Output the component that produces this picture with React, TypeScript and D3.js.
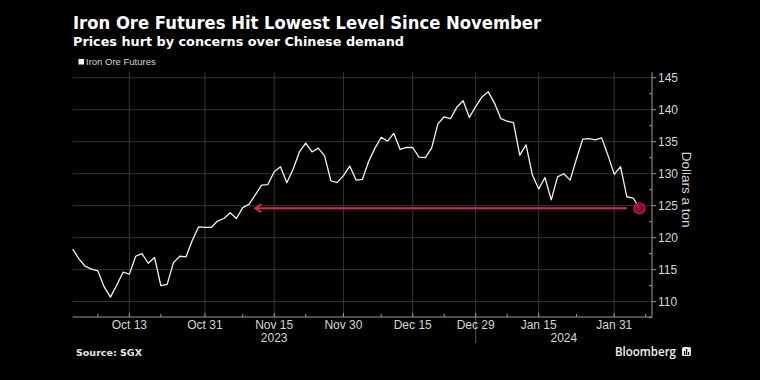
import React from "react";
import * as d3 from "d3";

const seriesName = "Iron Ore Futures";
const prices = [
  118.2, 116.7, 115.5, 115.1, 114.8, 112.3, 110.7, 112.6, 114.6, 114.3,
  117.1, 117.5, 116.0, 116.9, 112.5, 112.7, 116.1, 117.1, 117.0, 119.6,
  121.7, 121.6, 121.6, 122.6, 123.0, 123.9, 123.0, 124.7, 125.2, 126.7,
  128.2, 128.3, 130.3, 131.1, 128.6, 130.7, 133.4, 134.8, 133.4, 134.0,
  132.8, 128.9, 128.6, 129.7, 131.2, 129.0, 129.1, 131.9, 134.0, 135.7,
  135.1, 136.3, 133.8, 134.1, 134.1, 132.6, 132.5, 134.0, 137.8, 138.9,
  138.6, 140.4, 141.4, 138.8, 140.5, 142.0, 142.8, 141.0, 138.6, 138.2,
  138.0, 132.9, 134.5, 129.8, 127.6, 129.4, 125.9, 129.5, 130.0, 129.0,
  132.3, 135.4, 135.5, 135.3, 135.6, 132.9, 129.9, 131.1, 126.4, 126.2,
  124.6,
];
// trading-day index of each labelled date
const xTickLabels = ["Oct 13", "Oct 31", "Nov 15", "Nov 30", "Dec 15", "Dec 29", "Jan 15", "Jan 31"];
const xTickIndex = [9, 21, 32, 43, 54, 64, 74, 86];
const xMinorIndex = [4, 14, 27, 37, 49, 59, 69, 80, 91];
const yearLabels = ["2023", "2024"];
const yearLabelIndex = [32, 78];
const yearBoundaryIndex = 64;
const yTicks = [110, 115, 120, 125, 130, 135, 140, 145];
const yMinorTicks = [107.5, 112.5, 117.5, 122.5, 127.5, 132.5, 137.5, 142.5];
const arrowFromIndex = 88;
const arrowToIndex = 29;

const title = "Iron Ore Futures Hit Lowest Level Since November";
const subtitle = "Prices hurt by concerns over Chinese demand";
const yTitle = "Dollars a ton";
const source = "Source: SGX";

const W = 760;
const H = 380;

export default function App() {
  const x = d3.scaleLinear().domain([0, 92]).range([72.7, 652]);
  const y = d3.scaleLinear().domain([107.6, 145.9]).range([317, 72]);
  const line = d3
    .line<number>()
    .x((_, i) => x(i))
    .y((d) => y(d))
    .curve(d3.curveLinear);

  const last = prices[prices.length - 1];
  const lastI = prices.length - 1;
  const ay = y(last);
  const red = "#e0284f";
  const tickFont = "'Liberation Sans', Arial, sans-serif";
  const axisColor = "#9a9a9a";
  const gridColor = "#363636";
  const textColor = "#d6d6d6";

  return (
    <svg
      width={W}
      height={H}
      viewBox={`0 0 ${W} ${H}`}
      style={{ position: "absolute", left: 0, top: 0, display: "block" }}
    >
      <rect x={0} y={0} width={W} height={H} fill="#000" />

      {/* titles */}
      <text
        x={73}
        y={29}
        fill="#fff"
        fontFamily="'DejaVu Sans', sans-serif"
        fontWeight="bold"
        fontSize={17.5}
        textLength={468}
        lengthAdjust="spacingAndGlyphs"
      >
        {title}
      </text>
      <text
        x={73}
        y={46}
        fill="#fff"
        fontFamily="'DejaVu Sans', sans-serif"
        fontWeight="bold"
        fontSize={12.5}
        textLength={331}
        lengthAdjust="spacingAndGlyphs"
      >
        {subtitle}
      </text>

      {/* legend */}
      <rect x={78.5} y={59} width={5.5} height={5.5} fill="#fff" />
      <text x={86} y={65} fill={textColor} fontFamily={tickFont} fontSize={9.5}>
        {seriesName}
      </text>

      {/* grid */}
      {yTicks.map((t) => (
        <line key={"gy" + t} x1={x(0)} x2={x(92)} y1={y(t)} y2={y(t)} stroke={gridColor} strokeWidth={1} />
      ))}
      {xTickIndex.map((t) => (
        <line key={"gx" + t} x1={x(t)} x2={x(t)} y1={y(145.9)} y2={y(107.6)} stroke={gridColor} strokeWidth={1} />
      ))}
      {/* year boundary */}
      <line
        x1={x(yearBoundaryIndex)}
        x2={x(yearBoundaryIndex)}
        y1={y(107.6)}
        y2={343}
        stroke="#555"
        strokeWidth={1}
      />

      {/* axes */}
      <line x1={x(0)} x2={x(92)} y1={y(107.6)} y2={y(107.6)} stroke={axisColor} strokeWidth={1} />
      <line x1={x(92)} x2={x(92)} y1={y(145.9)} y2={y(107.6)} stroke={axisColor} strokeWidth={1} />
      {xTickIndex.map((t) => (
        <line key={"xt" + t} x1={x(t)} x2={x(t)} y1={y(107.6) - 4} y2={y(107.6)} stroke={axisColor} />
      ))}
      {xMinorIndex.map((t) => (
        <line key={"xm" + t} x1={x(t)} x2={x(t)} y1={y(107.6) - 3} y2={y(107.6)} stroke={axisColor} />
      ))}
      {yTicks.map((t) => (
        <line key={"yt" + t} x1={x(92)} x2={x(92) + 4} y1={y(t)} y2={y(t)} stroke={axisColor} />
      ))}
      {yMinorTicks.map((t) => (
        <line key={"ym" + t} x1={x(92) - 3} x2={x(92)} y1={y(t)} y2={y(t)} stroke={axisColor} />
      ))}
      {yTicks.map((t) => (
        <text
          key={"yl" + t}
          x={x(92) + 6}
          y={y(t)}
          dy="0.35em"
          fill={textColor}
          fontFamily={tickFont}
          fontSize={12}
        >
          {t}
        </text>
      ))}
      {xTickIndex.map((t, i) => (
        <text
          key={"xl" + t}
          x={x(t)}
          y={329}
          textAnchor="middle"
          fill={textColor}
          fontFamily={tickFont}
          fontSize={12}
        >
          {xTickLabels[i]}
        </text>
      ))}
      {yearLabelIndex.map((t, i) => (
        <text
          key={"yr" + t}
          x={x(t)}
          y={342}
          textAnchor="middle"
          fill={textColor}
          fontFamily={tickFont}
          fontSize={12}
        >
          {yearLabels[i]}
        </text>
      ))}
      <text
        transform={`translate(682, ${y(127.5)}) rotate(90)`}
        textAnchor="middle"
        fill={textColor}
        fontFamily={tickFont}
        fontSize={13.5}
      >
        {yTitle}
      </text>

      {/* series */}
      <path d={line(prices) || ""} fill="none" stroke="#f2f2f2" strokeWidth={1.3} strokeLinejoin="round" />

      {/* annotation arrow */}
      <line x1={x(arrowFromIndex)} x2={x(arrowToIndex) + 1} y1={ay} y2={ay} stroke={red} strokeWidth={2} />
      <path
        d={`M${x(arrowToIndex) + 6},${ay - 4} L${x(arrowToIndex)},${ay} L${x(arrowToIndex) + 6},${ay + 4}`}
        fill="none"
        stroke={red}
        strokeWidth={2}
      />
      <circle cx={x(lastI)} cy={y(last)} r={5.5} fill="#9c1131" fillOpacity={0.85} stroke="#c9204a" strokeWidth={1.2} />

      {/* footer */}
      <text x={76} y={356} fill="#e6e6e6" fontFamily="'DejaVu Sans', sans-serif" fontWeight="bold" fontSize={9.5}>
        {source}
      </text>
      <text
        x={615}
        y={356}
        fill="#f2f2f2"
        fontFamily="'Open Sans', 'Liberation Sans', sans-serif"
        fontWeight={600}
        fontSize={13}
        textLength={61}
        lengthAdjust="spacingAndGlyphs"
      >
        Bloomberg
      </text>
      <g transform="translate(682,347)">
        <rect x={0} y={0} width={9} height={9} rx={1.5} fill="#e6e6e6" />
        <rect x={2} y={4} width={1.2} height={4} fill="#000" />
        <rect x={4} y={2} width={1.2} height={6} fill="#000" />
        <rect x={6} y={5} width={1.2} height={3} fill="#000" />
      </g>
    </svg>
  );
}
